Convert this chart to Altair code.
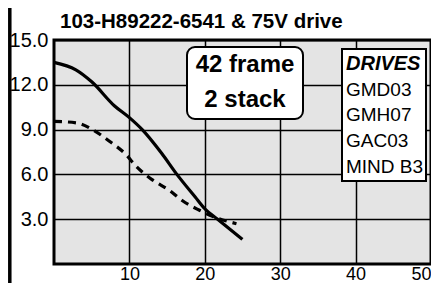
import altair as alt
import pandas as pd

# Data
solid_t = [0, 2.9, 5.0, 8.0, 10, 11.7, 14.3, 16.3, 18.7, 20, 21.7, 25]
solid_v = [13.5, 13.0, 12.2, 10.6, 9.8, 9.0, 7.4, 6.0, 4.5, 3.7, 3.0, 1.65]
dash_t = [0, 3.0, 5.1, 7.4, 9.6, 10.7, 13.0, 15.4, 17.0, 19.3, 21, 24.2]
dash_v = [9.55, 9.45, 9.0, 8.2, 7.3, 6.65, 5.65, 4.9, 4.25, 3.6, 3.2, 2.7]

x_ticks = [10, 20, 30, 40, 50]
y_ticks = [3, 6, 9, 12, 15]

title_text = "103-H89222-6541 & 75V drive"
frame_lines = ["42 frame", "2 stack"]
drives_header = "DRIVES"
drives_list = ["GMD03", "GMH07", "GAC03", "MIND B3"]

FONT = "Liberation Sans"
PLOT_W = 377
PLOT_H = 224

df = pd.concat([
    pd.DataFrame({"t": solid_t, "v": solid_v, "s": "solid"}),
    pd.DataFrame({"t": dash_t, "v": dash_v, "s": "dash"}),
])

one = pd.DataFrame({"a": [0]})

xsc = alt.Scale(domain=[0, 50], nice=False)
ysc = alt.Scale(domain=[0, 15], nice=False)

base = alt.Chart(df).encode(
    x=alt.X("t:Q", scale=xsc, title=None,
            axis=alt.Axis(values=x_ticks, labelFontSize=18, labelPadding=15,
                          labelBaseline="alphabetic", labelFont=FONT,
                          labelColor="black", grid=True, gridColor="black", gridWidth=1.5,
                          domain=False, ticks=False, labelOverlap=False)),
    y=alt.Y("v:Q", scale=ysc, title=None,
            axis=alt.Axis(values=y_ticks, format=".1f", labelFontSize=20, labelPadding=6,
                          labelFont=FONT, labelColor="black", grid=True, gridColor="black",
                          gridWidth=1.5, domain=False, ticks=False, labelOverlap=False)),
)

solid = base.transform_filter(alt.datum.s == "solid").mark_line(
    color="black", strokeWidth=3.2, interpolate="monotone")
dash = base.transform_filter(alt.datum.s == "dash").mark_line(
    color="black", strokeWidth=3.2, strokeDash=[8, 6], interpolate="monotone")

left_bar = alt.Chart(one).mark_rule(color="black", strokeWidth=3.5).encode(
    x=alt.value(-44.2), y=alt.value(-34), y2=alt.value(PLOT_H + 22))

title = alt.Chart(one).mark_text(
    font=FONT, fontSize=20.5, fontWeight="bold", align="left", baseline="alphabetic",
    color="black").encode(x=alt.value(6), y=alt.value(-12), text=alt.value(title_text))

box1 = alt.Chart(one).mark_rect(fill="white", stroke="black", strokeWidth=2,
                                cornerRadius=8).encode(
    x=alt.value(133), x2=alt.value(249), y=alt.value(7), y2=alt.value(79))

frame_txt = [
    alt.Chart(one).mark_text(font=FONT, fontSize=24, fontWeight="bold", align="center",
                             baseline="alphabetic", color="black").encode(
        x=alt.value(191), y=alt.value(yy), text=alt.value(s))
    for s, yy in zip(frame_lines, [32, 67])
]

box2 = alt.Chart(one).mark_rect(fill="white", stroke="black", strokeWidth=2).encode(
    x=alt.value(288), x2=alt.value(372), y=alt.value(9), y2=alt.value(141))

drv_head = alt.Chart(one).mark_text(font=FONT, fontSize=20, fontWeight="bold",
                                    fontStyle="italic", align="left", baseline="alphabetic",
                                    color="black").encode(
    x=alt.value(292), y=alt.value(30), text=alt.value(drives_header))

drv_txt = [
    alt.Chart(one).mark_text(font=FONT, fontSize=19, align="left", baseline="alphabetic",
                             color="black").encode(
        x=alt.value(292), y=alt.value(yy), text=alt.value(s))
    for s, yy in zip(drives_list, [56, 81, 107, 133])
]

chart = alt.layer(
    solid, dash, left_bar, title, box1, *frame_txt, box2, drv_head, *drv_txt
).properties(
    width=PLOT_W, height=PLOT_H,
    autosize=alt.AutoSizeParams(type="none"),
    padding={"left": 46, "top": 32, "right": 0, "bottom": 19},
    background="white",
).configure_view(
    stroke="black", strokeWidth=3, fill="#e4e4e4"
)

chart.save("out.html", embed_options={"renderer": "svg", "actions": False})
